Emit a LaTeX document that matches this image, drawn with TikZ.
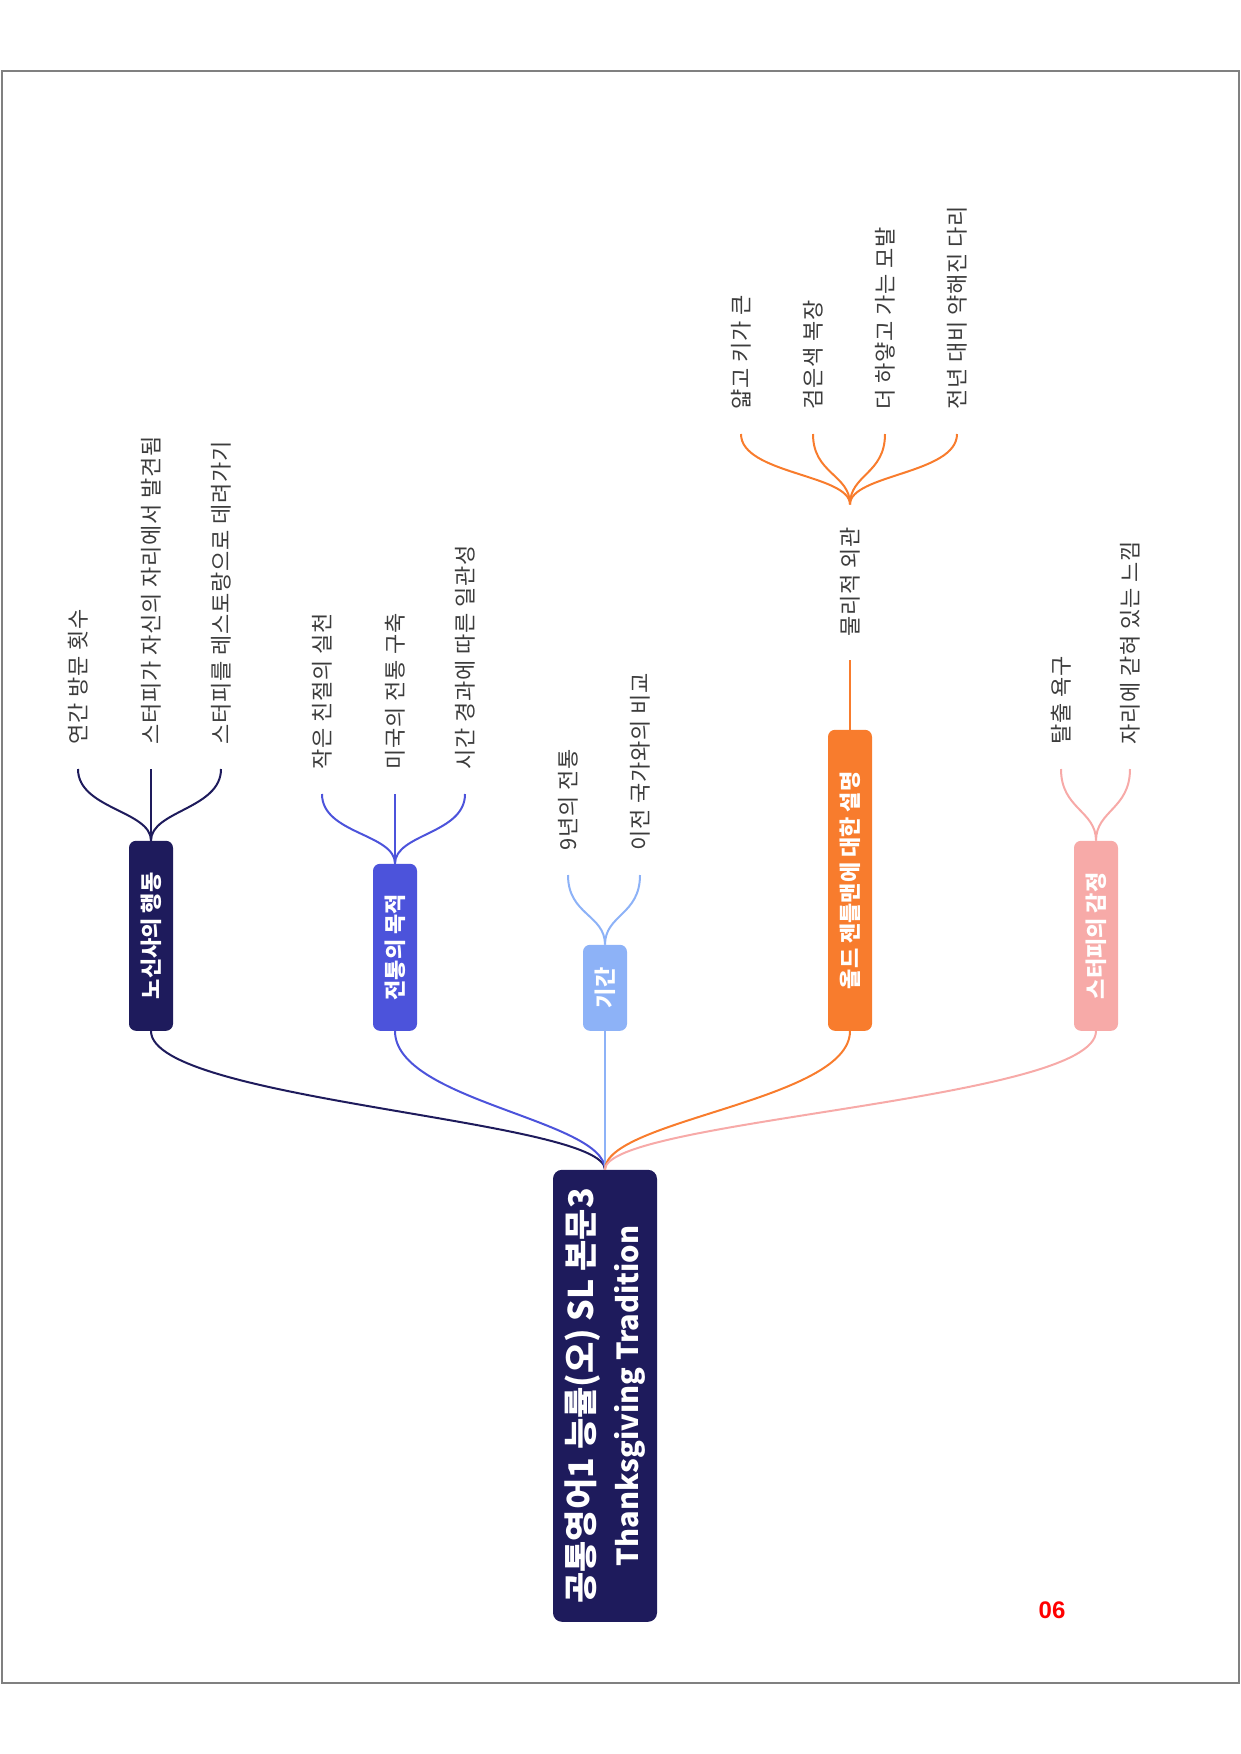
\documentclass[tikz,border=0pt]{standalone}
\usepackage{fontspec}
\setmainfont{Noto Sans CJK KR}
\newfontfamily\leaffont[LetterSpace=3.5]{Noto Sans CJK KR}
\newfontfamily\pagefont{Liberation Sans}

\definecolor{navy}{RGB}{30,27,92}
\definecolor{royal}{RGB}{76,83,219}
\definecolor{sky}{RGB}{141,178,247}
\definecolor{tangerine}{RGB}{248,124,45}
\definecolor{blush}{RGB}{247,170,168}
\definecolor{leafgray}{RGB}{60,60,60}

\begin{document}
\begin{tikzpicture}[x=1pt, y=-1pt,
    topic/.style={rotate=90, anchor=west, fill=#1, rounded corners=7pt, minimum height=44pt, text=white, font=\fontsize{22}{26}\selectfont\bfseries},
    leaf/.style={rotate=90, anchor=west, inner xsep=24pt, inner ysep=0pt, text=leafgray, font=\leaffont\fontsize{22}{26}\selectfont},
    link/.style={draw=#1, line width=2pt}]
\useasboundingbox (0,0) rectangle (1240,1754);
\draw[gray, line width=2pt] (1.5,70.5) rectangle (1238.5,1683);

% root
\node[rotate=90, anchor=west, fill=navy, rounded corners=9pt, minimum width=452pt, minimum height=104pt, align=center, text=white, font=\fontsize{29}{45}\selectfont\bfseries] (root) at (605,1622) {{\fontsize{34}{45}\selectfont 공통영어1 능률(오) SL 본문3}\\Thanksgiving Tradition};

% main topics
\node[topic=navy, minimum width=190pt] (t1) at (151,1031) {노신사의 행동};
\node[topic=royal, minimum width=167pt] (t2) at (395,1031) {전통의 목적};
\node[topic=sky, minimum width=86pt] (t3) at (605,1031) {기간};
\node[topic=tangerine, minimum width=301pt] (t4) at (850,1031) {올드 젠틀맨에 대한 설명};
\node[topic=blush, minimum width=190pt] (t5) at (1096,1031) {스터피의 감정};

\draw[link=navy] (root.east) .. controls +(0,-50) and +(0,70) .. (t1.west);
\draw[link=royal] (root.east) .. controls +(0,-50) and +(0,70) .. (t2.west);
\draw[link=sky] (root.east) -- (t3.west);
\draw[link=tangerine] (root.east) .. controls +(0,-50) and +(0,70) .. (t4.west);
\draw[link=blush] (root.east) .. controls +(0,-50) and +(0,70) .. (t5.west);

% leaves
\node[leaf] (l11) at (78,769) {연간 방문 횟수};
\node[leaf] (l12) at (151,769) {스터피가 자신의 자리에서 발견됨};
\node[leaf] (l13) at (221,769) {스터피를 레스토랑으로 데려가기};
\draw[link=navy] (t1.east) .. controls +(0,-30) and +(0,40) .. (l11.west);
\draw[link=navy] (t1.east) -- (l12.west);
\draw[link=navy] (t1.east) .. controls +(0,-30) and +(0,40) .. (l13.west);

\node[leaf] (l21) at (322,794) {작은 친절의 실천};
\node[leaf] (l22) at (395,794) {미국의 전통 구축};
\node[leaf] (l23) at (465,794) {시간 경과에 따른 일관성};
\draw[link=royal] (t2.east) .. controls +(0,-30) and +(0,40) .. (l21.west);
\draw[link=royal] (t2.east) -- (l22.west);
\draw[link=royal] (t2.east) .. controls +(0,-30) and +(0,40) .. (l23.west);

\node[leaf] (l31) at (568,875) {9년의 전통};
\node[leaf] (l32) at (640,875) {이전 국가와의 비교};
\draw[link=sky] (t3.east) .. controls +(0,-30) and +(0,40) .. (l31.west);
\draw[link=sky] (t3.east) .. controls +(0,-30) and +(0,40) .. (l32.west);

\node[leaf, inner xsep=23pt] (m4) at (850,660) {물리적 외관};
\draw[link=tangerine] (t4.east) -- (m4.west);
\node[leaf] (l41) at (741,434) {얇고 키가 큰};
\node[leaf] (l42) at (813,434) {검은색 복장};
\node[leaf] (l43) at (885,434) {더 하얗고 가는 모발};
\node[leaf] (l44) at (957,434) {전년 대비 약해진 다리};
\draw[link=tangerine] (m4.east) .. controls +(0,-30) and +(0,40) .. (l41.west);
\draw[link=tangerine] (m4.east) .. controls +(0,-30) and +(0,40) .. (l42.west);
\draw[link=tangerine] (m4.east) .. controls +(0,-30) and +(0,40) .. (l43.west);
\draw[link=tangerine] (m4.east) .. controls +(0,-30) and +(0,40) .. (l44.west);

\node[leaf] (l51) at (1061,769) {탈출 욕구};
\node[leaf] (l52) at (1130,769) {자리에 갇혀 있는 느낌};
\draw[link=blush] (t5.east) .. controls +(0,-30) and +(0,40) .. (l51.west);
\draw[link=blush] (t5.east) .. controls +(0,-30) and +(0,40) .. (l52.west);

\node[text=red, font=\pagefont\bfseries\fontsize{24}{24}\selectfont] (pg) at (1052,1610) {06};
\end{tikzpicture}
\end{document}
